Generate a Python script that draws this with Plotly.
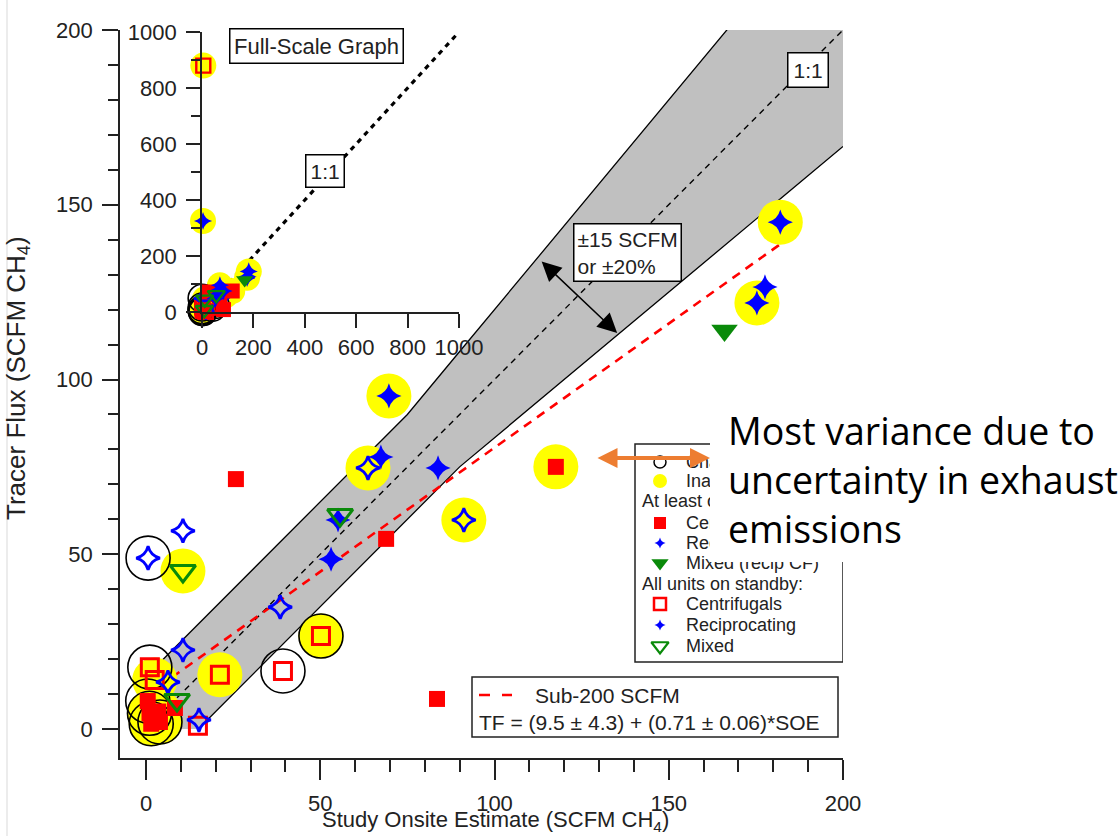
import plotly.graph_objects as go

# ---------------- data (SCFM CH4): study onsite estimate vs tracer flux ----------------
# At least one unit operating
cf_op_x = [25.8, 83.5, 68.9, 117.6, 8.3, 0.5, 1.0, 3.5, 1.5, 4.0]
cf_op_y = [71.5, 8.6, 54.4, 75.0, 6.0, 8.0, 4.5, 5.0, 1.5, 2.0]
cf_op_inacc = [False, False, False, True, False, False, True, True, True, True]
cf_op_chall = [False, False, False, False, False, True, True, False, True, True]

rc_op_x = [182.0, 177.6, 175.3, 69.7, 67.4, 83.8, 55.1, 53.1, 4.0]
rc_op_y = [145.0, 126.5, 121.9, 95.3, 77.8, 74.7, 59.8, 48.6, 325.0]
rc_op_inacc = [True, False, True, True, False, False, False, False, True]
rc_op_chall = [False, False, False, False, False, False, False, False, False]

mx_op_x = [166.0]
mx_op_y = [114.0]
mx_op_inacc = [False]
mx_op_chall = [False]

# All units on standby
cf_sb_x = [50.2, 39.3, 21.2, 14.9, 1.1, 2.5, 5.0]
cf_sb_y = [26.6, 16.6, 15.5, 0.9, 17.7, 14.0, 880.0]
cf_sb_inacc = [True, False, True, False, False, True, True]
cf_sb_chall = [True, True, False, False, True, False, False]

rc_sb_x = [63.7, 91.2, 38.5, 10.6, 15.2, 10.6, 0.6, 6.3]
rc_sb_y = [74.7, 59.8, 34.9, 22.6, 2.6, 56.7, 48.9, 13.4]
rc_sb_inacc = [True, True, False, False, False, False, False, False]
rc_sb_chall = [False, False, False, False, False, False, True, False]

mx_sb_x = [55.7, 10.6, 8.9]
mx_sb_y = [61.2, 45.2, 8.3]
mx_sb_inacc = [False, True, False]
mx_sb_chall = [False, False, False]

# Sub-200 SCFM linear fit: TF = a + b*SOE
fit_a, fit_a_err = 9.5, 4.3
fit_b, fit_b_err = 0.71, 0.06
fit_limit = 200

# Agreement band: +/-15 SCFM or +/-20 %
band_abs = 15
band_frac = 0.20

# Axis ticks
main_ticks = [0, 50, 100, 150, 200]
inset_ticks = [0, 200, 400, 600, 800, 1000]

legend_labels = ["Challenging tracer site", "Inaccessible exhaust",
                 "At least one unit operating:", "Centrifugals", "Reciprocating",
                 "Mixed (recip CF)", "All units on standby:", "Centrifugals",
                 "Reciprocating", "Mixed"]

# ---------------- styles ----------------
RED, BLUE, GREEN, YEL = "#ff0000", "#0000ff", "#0a8a0a", "#ffff00"
INK = "#222222"
FONT = "Liberation Sans, Arial, sans-serif"

# plot area in page pixels (left, right, top, bottom)
PL, PR, PT, PB = 120, 843, 30, 758


def paper_x(px):
    return (px - PL) / (PR - PL)


def paper_y(py):
    return (PB - py) / (PB - PT)


groups = [
    # (x, y, inacc, chall, symbol, color, main size, inset size, line width)
    (cf_sb_x, cf_sb_y, cf_sb_inacc, cf_sb_chall, "square-open", RED, 17, 14, 3),
    (rc_sb_x, rc_sb_y, rc_sb_inacc, rc_sb_chall, "star-diamond-open", BLUE, 17, 12, 2.8),
    (cf_op_x, cf_op_y, cf_op_inacc, cf_op_chall, "square", RED, 16, 15, 0),
    (rc_op_x, rc_op_y, rc_op_inacc, rc_op_chall, "star-diamond", BLUE, 18, 13, 0),
    (mx_op_x, mx_op_y, mx_op_inacc, mx_op_chall, "triangle-down", GREEN, 23, 15, 0),
    (mx_sb_x, mx_sb_y, mx_sb_inacc, mx_sb_chall, "triangle-down-open", GREEN, 22, 15, 3),
]

fig = go.Figure()

# ---------------- agreement band ----------------
bx = sorted(set([0.0, float(band_abs), band_abs / band_frac,
                 band_abs * (1 + band_frac) / band_frac, 200.0]))
upper = [max(v + band_abs, v * (1 + band_frac)) for v in bx]
lower = [max(0.0, min(v - band_abs, v / (1 + band_frac))) for v in bx]
fig.add_trace(go.Scatter(x=bx + bx[::-1], y=upper + lower[::-1], fill="toself",
                         fillcolor="#c0c0c0", line=dict(width=0), mode="lines",
                         hoverinfo="skip", showlegend=False))
fig.add_trace(go.Scatter(x=bx, y=upper, mode="lines", line=dict(color="black", width=1.3),
                         showlegend=False))
lx = [v for v in bx if v >= band_abs]
fig.add_trace(go.Scatter(x=lx, y=[min(v - band_abs, v / (1 + band_frac)) for v in lx],
                         mode="lines", line=dict(color="black", width=1.3), showlegend=False))

# 1:1 line
fig.add_trace(go.Scatter(x=[0, 200], y=[0, 200], mode="lines",
                         line=dict(color="black", width=1.4, dash="6px,5px"), showlegend=False))

# fit line over the sub-200 data range
all_x = [v for g in groups for v in g[0]]
all_y = [v for g in groups for v in g[1]]
fx_max = max(x for x, y in zip(all_x, all_y) if y < fit_limit and x < fit_limit)
fig.add_trace(go.Scatter(x=[0, fx_max], y=[fit_a, fit_a + fit_b * fx_max], mode="lines",
                         line=dict(color=RED, width=2.6, dash="9px,7px"), showlegend=False))


def halo_points(flag_index):
    xs, ys = [], []
    for g in groups:
        for x, y, f in zip(g[0], g[1], g[flag_index]):
            if f:
                xs.append(x)
                ys.append(y)
    return xs, ys


def add_markers(xa, ya, inset):
    clip = not inset
    hx, hy = halo_points(2)
    fig.add_trace(go.Scatter(x=hx, y=hy, mode="markers", xaxis=xa, yaxis=ya, cliponaxis=clip,
                             marker=dict(symbol="circle", size=26 if inset else 45, color=YEL,
                                         line=dict(width=0)), showlegend=False))
    rx, ry = halo_points(3)
    fig.add_trace(go.Scatter(x=rx, y=ry, mode="markers", xaxis=xa, yaxis=ya, cliponaxis=clip,
                             marker=dict(symbol="circle-open", size=28 if inset else 44, color="black",
                                         line=dict(width=1.6, color="black")), showlegend=False))
    for gx, gy, _, _, sym, col, s_main, s_in, lw in groups:
        fig.add_trace(go.Scatter(x=gx, y=gy, mode="markers", xaxis=xa, yaxis=ya, cliponaxis=clip,
                                 marker=dict(symbol=sym, size=s_in if inset else s_main, color=col,
                                             line=dict(width=(lw * 0.8 if inset else lw), color=col)),
                                 showlegend=False))


add_markers("x", "y", False)

# ---------------- inset: full-scale graph ----------------
fig.add_trace(go.Scatter(x=[0, 1000], y=[0, 1000], mode="lines", xaxis="x2", yaxis="y2",
                         line=dict(color="black", width=3.2, dash="5px,5px"), showlegend=False))
add_markers("x2", "y2", True)

# ---------------- legend (pixel-positioned overlay axes x3/y3) ----------------
leg_rows = [462, 481, 501, 523, 543, 563, 584, 604, 625, 646]
leg_sym = [("circle-open", "black", 12, 1.5), ("circle", YEL, 14, 0), None,
           ("square", RED, 12, 0), ("star-diamond", BLUE, 8, 0), ("triangle-down", GREEN, 15, 0), None,
           ("square-open", RED, 12, 2.5), ("star-diamond", BLUE, 8, 0), ("triangle-down-open", GREEN, 15, 2.2)]
for row, sy in zip(leg_rows, leg_sym):
    if sy is None:
        continue
    sym, col, sz, lw = sy
    fig.add_trace(go.Scatter(x=[660], y=[row], mode="markers", xaxis="x3", yaxis="y3",
                             marker=dict(symbol=sym, size=sz, color=col, line=dict(width=lw, color=col)),
                             showlegend=False, hoverinfo="skip"))

ann = []
for i, (row, lab) in enumerate(zip(leg_rows, legend_labels)):
    header = leg_sym[i] is None
    ann.append(dict(text=lab, x=640 if header else 684, y=row, xref="x3", yref="y3",
                    xanchor="left", yanchor="middle", showarrow=False,
                    font=dict(family=FONT, size=18, color=INK)))

# equation box
eq_text = "TF = (%.1f \u00b1 %.1f) + (%.2f \u00b1 %.2f)*SOE" % (fit_a, fit_a_err, fit_b, fit_b_err)
ann.append(dict(text="Sub-200 SCFM", x=533, y=695, xref="x3", yref="y3", xanchor="left",
                yanchor="middle", showarrow=False, font=dict(family=FONT, size=21, color=INK)))
ann.append(dict(text=eq_text, x=477, y=722, xref="x3", yref="y3", xanchor="left",
                yanchor="middle", showarrow=False, font=dict(family=FONT, size=21, color=INK)))

# axis titles (paper coordinates so they may sit in the margins)
ann.append(dict(text="Study Onsite Estimate (SCFM CH<sub>4</sub>)", x=paper_x(495), y=paper_y(821),
                xref="paper", yref="paper", xanchor="center", yanchor="middle", showarrow=False,
                font=dict(family=FONT, size=22, color=INK)))
ann.append(dict(text="Tracer Flux (SCFM CH<sub>4</sub>)", x=paper_x(17), y=paper_y(378),
                xref="paper", yref="paper", xanchor="center", yanchor="middle",
                textangle=-90, showarrow=False,
                font=dict(family=FONT, size=26, color=INK)))

# in-plot labels
ann.append(dict(text="1:1", x=190, y=188.5, xref="x", yref="y", showarrow=False,
                bgcolor="white", bordercolor="black", borderwidth=1.5, borderpad=5,
                font=dict(family=FONT, size=21, color=INK)))
ann.append(dict(text="\u00b1%d SCFM<br>or \u00b1%d%%" % (band_abs, round(band_frac * 100)),
                x=138.3, y=136.2, xref="x", yref="y", showarrow=False, align="left",
                bgcolor="white", bordercolor="black", borderwidth=1.5, borderpad=3,
                font=dict(family=FONT, size=21, color=INK)))
ann.append(dict(text="", x=135.2, y=113.3, ax=113.1, ay=134.2, xref="x", yref="y",
                axref="x", ayref="y", showarrow=True, arrowhead=2, arrowsize=2.6,
                arrowwidth=1.5, arrowcolor="black", arrowside="end+start",
                standoff=0, startstandoff=0))
ann.append(dict(text="Full-Scale Graph", x=316.5, y=45.5, xref="x3", yref="y3", showarrow=False,
                width=166, height=27, bgcolor="white", bordercolor="black", borderwidth=1.5,
                borderpad=3, font=dict(family=FONT, size=22, color=INK)))
ann.append(dict(text="1:1", x=478, y=503, xref="x2", yref="y2", showarrow=False,
                bgcolor="white", bordercolor="black", borderwidth=1.5, borderpad=4,
                font=dict(family=FONT, size=21, color=INK)))

# call-out text over the legend
ann.append(dict(text="\u00a0", x=paper_x(710), y=paper_y(405), xref="paper", yref="paper",
                xanchor="left", yanchor="top", width=410, height=157, bgcolor="white",
                borderpad=0, borderwidth=0, showarrow=False))
ann.append(dict(text="Most variance due to<br>uncertainty in exhaust<br>emissions",
                x=paper_x(726), y=paper_y(403), xref="paper", yref="paper", xanchor="left",
                yanchor="top", align="left", showarrow=False,
                font=dict(family="Open Sans, sans-serif", size=37.5, color="black")))
ann.append(dict(text="", x=710, y=458, ax=596, ay=458, xref="x3", yref="y3", axref="x3", ayref="y3",
                showarrow=True, arrowhead=2, arrowsize=1.0, arrowwidth=4, arrowcolor="#ed7d31",
                arrowside="end+start", standoff=0, startstandoff=0))

shapes = [
    dict(type="rect", xref="x3", yref="y3", x0=635, x1=843, y0=444, y1=662,
         line=dict(color=INK, width=1.5), fillcolor="white", layer="below"),
    dict(type="rect", xref="x3", yref="y3", x0=472, x1=838, y0=677, y1=737,
         line=dict(color=INK, width=1.5), fillcolor="white", layer="below"),
    dict(type="line", xref="x3", yref="y3", x0=479, x1=512, y0=695, y1=695,
         line=dict(color=RED, width=2.6, dash="11px,12px"), layer="above"),
    # thin page-edge rule along the left side
    dict(type="line", xref="paper", yref="paper", x0=paper_x(7), x1=paper_x(7),
         y0=paper_y(0), y1=paper_y(836), line=dict(color="#d9d9d9", width=1), layer="above"),
]

axis_common = dict(showline=True, linecolor=INK, linewidth=1.8, ticks="outside", tickcolor=INK,
                   tickwidth=1.8, showgrid=False, zeroline=False,
                   tickfont=dict(family=FONT, size=22, color=INK))

fig.update_layout(
    width=1120, height=836,
    margin=dict(l=PL, r=1120 - PR, t=PT, b=836 - PB),
    paper_bgcolor="white", plot_bgcolor="rgba(0,0,0,0)",
    showlegend=False,
    xaxis=dict(range=[-7.46, 200], tickvals=main_ticks, ticklen=20, ticklabelstandoff=5,
               minor=dict(dtick=10, tick0=0, ticklen=12, tickwidth=1.5, tickcolor=INK, ticks="outside"),
               **axis_common),
    yaxis=dict(range=[-8.3, 200], tickvals=main_ticks, ticklen=16, ticklabelstandoff=5,
               minor=dict(dtick=10, tick0=0, ticklen=10, tickwidth=1.5, tickcolor=INK, ticks="outside"),
               **axis_common),
    xaxis2=dict(domain=[paper_x(202), paper_x(459)], anchor="y2", range=[0, 1000], tickvals=inset_ticks,
                ticklen=14, ticklabelstandoff=1, **axis_common),
    yaxis2=dict(domain=[paper_y(312), paper_y(32)], anchor="x2", range=[0, 1000], tickvals=inset_ticks,
                ticklen=14, ticklabelstandoff=5,
                minor=dict(dtick=100, tick0=0, ticklen=9, tickwidth=1.5, tickcolor=INK, ticks="outside"),
                **axis_common),
    xaxis3=dict(domain=[0, 1], anchor="y3", range=[PL, PR], visible=False),
    yaxis3=dict(domain=[0, 1], anchor="x3", range=[PB, PT], visible=False),
    annotations=ann,
    shapes=shapes,
)

fig.write_html("out.html")
